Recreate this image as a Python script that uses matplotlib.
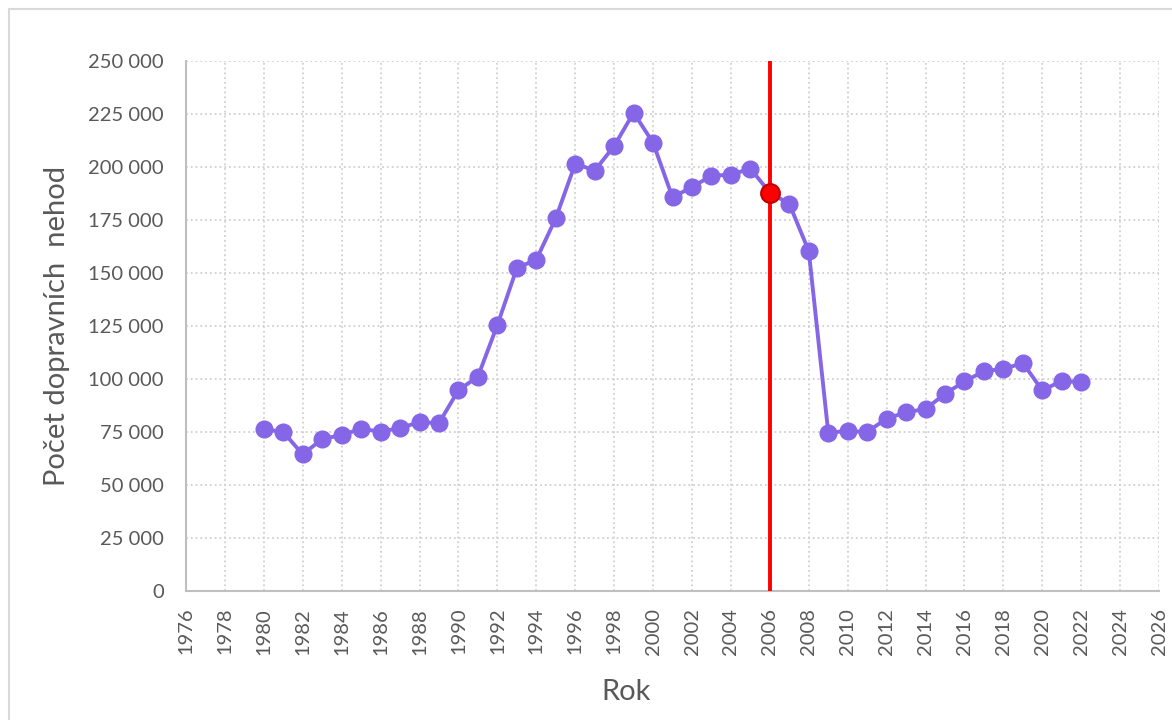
import matplotlib.pyplot as plt
from matplotlib.ticker import FuncFormatter
from matplotlib.patches import Rectangle

plt.rcParams['font.family'] = ['Lato', 'DejaVu Sans']

years = list(range(1980, 2023))
accidents = [76500, 75000, 64500, 71800, 73600, 76600, 75200, 77000, 79700, 79300,
             94800, 101200, 125600, 152400, 156400, 175900, 201700, 198400, 210000, 225700,
             211500, 185700, 190700, 195900, 196500, 199300, 188000, 182700, 160400, 74800,
             75500, 75100, 81400, 84400, 85900, 93100, 98900, 103800, 104800, 107600,
             94700, 99200, 98500]
highlight_year = 2006
highlight_value = 188000

text_col = '#595959'
line_col = '#8566e6'

fig = plt.figure(figsize=(11.72, 7.2), dpi=100)
# chart area border
fig.patches.append(Rectangle((9/1172, -0.1), 1.2, 1 - 9/720 + 0.1, transform=fig.transFigure,
                             fill=False, edgecolor='#d9d9d9', linewidth=1.5))
ax = fig.add_axes([0.1587, 0.179, 0.8303, 0.736])

ax.plot(years, accidents, color=line_col, linewidth=2.8, marker='o', markersize=12,
        zorder=3)
ax.plot([highlight_year, highlight_year], [0, 250000], color='#ff0000', linewidth=2.8, zorder=4)
ax.plot([highlight_year], [highlight_value], marker='o', markersize=13.5, color='#ff0000',
        markeredgecolor='#c00000', markeredgewidth=1.5, zorder=5)

ax.set_xlim(1976, 2026)
ax.set_ylim(0, 250000)
ax.set_xticks(range(1976, 2027, 2))
ax.set_yticks(range(0, 250001, 25000))
ax.yaxis.set_major_formatter(FuncFormatter(lambda v, p: f'{int(v):,}'.replace(',', ' ')))
ax.tick_params(axis='x', rotation=90, pad=12)
ax.tick_params(axis='y', pad=16)
ax.tick_params(length=0, labelsize=14.5, colors=text_col)

ax.grid(True, linestyle=':', color='#d0d0d0', linewidth=1.3)
for s in ['top', 'right']:
    ax.spines[s].set_visible(False)
for s in ['left', 'bottom']:
    ax.spines[s].set_color('#bfbfbf')
    ax.spines[s].set_linewidth(1.5)

ax.set_xlabel('Rok', fontsize=21, color=text_col)
ax.xaxis.set_label_coords(0.452, -0.165)
ax.set_ylabel('Počet dopravních  nehod', fontsize=21, color=text_col, labelpad=13)

fig.savefig('out.png', dpi=100)
